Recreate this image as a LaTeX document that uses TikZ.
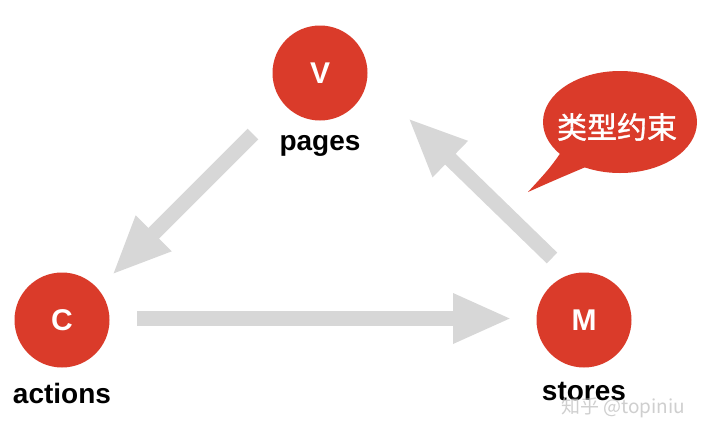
\documentclass[tikz,border=0pt]{standalone}
\usepackage{fontspec}
\setmainfont{Liberation Sans}
\newfontfamily\cjk{Noto Sans CJK SC}
\newfontfamily\cjkmed[FakeBold=1.2]{Noto Sans CJK SC}
\usetikzlibrary{arrows.meta}
\definecolor{nodered}{HTML}{DA3B2A}
\definecolor{arrowgray}{HTML}{D7D7D7}
\begin{document}
\begin{tikzpicture}[x=1pt,y=-1pt,
  mvc/.style={circle,fill=nodered,minimum size=95pt,inner sep=0pt,text=white,font=\fontsize{30}{32}\selectfont\bfseries},
  lbl/.style={font=\fontsize{28}{30}\selectfont\bfseries,anchor=base,inner sep=0pt},
  bigarrow/.style={draw=arrowgray,line width=15pt,-{Triangle[width=46pt,length=59pt]},fill=arrowgray}]
\useasboundingbox[fill=white] (0,0) rectangle (714,440);
% nodes
\node[mvc] (V) at (320,73) {V};
\node[mvc] (C) at (62,320) {C};
\node[mvc] (M) at (584,320) {M};
\node[lbl] (pages) at (320,150) {pages};
\node[lbl] (actions) at (62,403) {actions};
\node[lbl] (stores) at (584,400) {stores};
% arrows
\coordinate (a1s) at (253,134);
\coordinate (a1e) at (112,275);
\coordinate (a2s) at (137,318.5);
\coordinate (a2e) at (512,318.5);
\coordinate (a3s) at (552,258);
\coordinate (a3e) at (408,118);
\draw[bigarrow] (a1s) -- (a1e);
\draw[bigarrow] (a2s) -- (a2e);
\draw[bigarrow] (a3s) -- (a3e);
% speech bubble
\fill[nodered] (620,122) ellipse [x radius=77, y radius=51];
\coordinate (tailtip) at (528,192);
\fill[nodered] (564,148) .. controls (550,168) .. (tailtip) .. controls (555,180) .. (588,166) -- cycle;
\node[text=white,font=\cjkmed\fontsize{30}{32}\selectfont,inner sep=0pt] (bubble) at (617,127) {类型约束};
% watermark
\node[text=gray!50,opacity=0.75,font=\cjk\fontsize{19}{21}\selectfont,inner sep=0pt] (wm) at (623,408) {知乎 @topiniu};
\end{tikzpicture}
\end{document}
